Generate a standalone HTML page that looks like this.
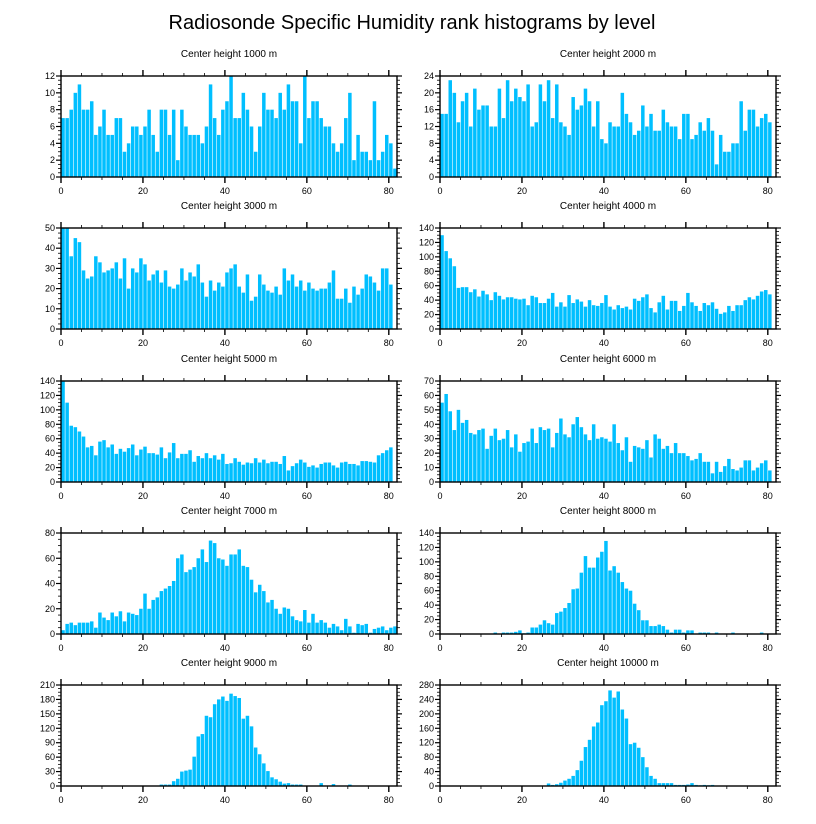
<!DOCTYPE html>
<html><head><meta charset="utf-8">
<style>
html,body{margin:0;padding:0;background:#fff;}
svg{display:block;font-family:"Liberation Sans",sans-serif;}
</style></head>
<body>
<svg id="fig" width="816" height="824" viewBox="0 0 816 824" xmlns="http://www.w3.org/2000/svg">
<text x="412" y="29" text-anchor="middle" font-size="20">Radiosonde Specific Humidity rank histograms by level</text>
</svg>
<script>
const titles = ["Center height 1000 m","Center height 2000 m","Center height 3000 m","Center height 4000 m","Center height 5000 m","Center height 6000 m","Center height 7000 m","Center height 8000 m","Center height 9000 m","Center height 10000 m"];
const yMax = [12,24,50,140,140,70,80,140,210,280];
const yStep = [2,4,10,20,20,10,20,20,30,40];
const xTicks = [0,20,40,60,80];
const h1000 = [7,7,8,10,11,8,8,9,5,6,8,5,5,7,7,3,4,6,6,5,6,8,5,3,8,8,5,8,2,8,6,5,5,5,4,6,11,7,5,8,9,12,7,7,10,8,6,3,6,10,8,8,7,10,8,11,9,9,4,12,7,9,9,7,6,6,4,3,4,7,10,2,5,3,3,2,9,2,3,5,4,1];
const h2000 = [15,15,23,20,13,18,20,12,21,16,17,17,12,12,21,14,23,18,21,19,18,22,12,13,22,18,23,14,22,13,12,10,19,16,17,21,18,12,18,9,8,13,12,12,20,15,13,10,11,17,12,15,11,11,16,13,12,12,9,15,15,9,10,13,11,14,11,3,10,6,6,8,8,18,11,16,16,12,14,15,13];
const h3000 = [50,50,36,45,43,29,25,26,36,33,28,29,30,33,25,35,20,30,28,35,32,24,27,29,23,29,21,20,22,30,24,28,26,32,23,16,24,19,23,21,28,30,32,21,18,27,14,16,27,22,19,18,21,17,30,24,27,21,24,19,23,20,19,20,20,23,29,15,15,20,13,21,17,20,27,26,23,19,30,30,22];
const h4000 = [130,108,98,87,57,58,58,51,55,45,53,48,40,51,46,41,44,44,42,41,42,33,46,44,36,36,42,50,31,37,31,47,36,41,38,31,40,33,32,36,47,31,27,33,29,31,27,42,39,44,48,29,23,37,46,27,39,39,25,32,50,37,32,25,36,33,37,28,21,23,32,25,33,33,40,44,41,46,52,54,48];
const h5000 = [140,110,78,76,70,63,48,50,37,56,58,48,52,39,46,42,47,52,37,45,49,40,40,38,48,33,41,54,33,39,39,44,28,36,33,40,33,37,31,39,25,26,33,28,24,27,26,33,27,31,26,28,28,25,36,16,22,26,31,27,21,23,20,25,27,27,23,20,27,28,25,25,23,29,29,28,27,37,40,44,48];
const h6000 = [55,61,49,36,50,41,43,34,33,36,37,23,32,37,29,30,36,24,33,21,27,28,37,27,38,36,37,24,34,44,33,31,40,45,38,33,29,40,30,31,30,28,40,27,22,31,14,25,24,23,29,17,33,30,23,25,20,27,20,20,18,15,16,20,14,14,6,14,7,11,16,9,8,10,15,15,8,10,13,15,8];
const h7000 = [3,8,9,7,9,9,9,10,5,17,13,11,17,14,18,10,17,16,15,20,32,20,27,29,34,36,38,42,60,63,49,51,53,60,67,57,74,72,60,59,54,63,63,67,54,53,43,33,39,34,25,27,20,16,21,20,14,11,10,19,9,16,9,11,9,5,8,6,3,12,6,1,8,7,8,1,4,5,6,3,5,6];
const h8000 = [0,0,0,0,0,0,0,0,0,0,0,0,0,2,0,2,2,2,3,5,1,2,9,9,13,19,15,13,29,31,36,43,62,63,85,108,92,92,106,114,129,88,94,85,72,63,60,42,33,19,19,11,11,13,11,6,2,6,6,2,5,5,0,2,2,2,0,2,0,0,0,2,0,0,0,0,0,0,2,0,0,0];
const h9000 = [0,0,0,0,0,0,0,0,0,0,0,0,0,0,0,0,0,0,0,0,0,0,1,1,3,3,3,10,15,30,32,34,61,103,108,146,143,170,180,186,177,192,187,183,140,146,124,80,66,47,31,18,14,9,5,6,3,3,3,1,1,1,1,6,1,1,4,1,1,1,3,1,1,1,1,1,1,1,1,1,1,1];
const h10000 = [0,0,0,0,0,0,0,0,0,0,0,0,0,0,0,0,0,0,0,0,0,0,0,0,0,0,7,3,5,9,15,20,28,44,70,108,128,165,176,224,235,265,245,262,212,187,116,120,106,80,52,28,20,8,8,8,8,3,3,3,4,8,3,2,3,2,3,1,1,1,1,1,1,1,1,1,1,1,1,1,1,1];
const series = [h1000,h2000,h3000,h4000,h5000,h6000,h7000,h8000,h9000,h10000];

const NS = "http://www.w3.org/2000/svg";
const svg = document.getElementById('fig');
function mk(tag, attrs, parent){
  const e = document.createElementNS(NS, tag);
  for (const k in attrs) e.setAttribute(k, attrs[k]);
  parent.appendChild(e); return e;
}
const colX = [61, 440], rowY = [76,228,381,533,685];
const W = 336, H = 101, XMAX = 82;
for (let p = 0; p < 10; p++) {
  const x0 = colX[p % 2], y0 = rowY[Math.floor(p / 2)];
  const g = mk('g', {}, svg);
  
  
  const sx = v => x0 + v / XMAX * W;
  const sy = v => y0 + H - Math.min(v, yMax[p]) / yMax[p] * H;
  const t = mk('text', {x: x0 + W / 2, y: y0 - 19, 'text-anchor': 'middle', 'font-size': 10}, g);
  
  
  t.textContent = titles[p];
  const data = series[p];
  for (let i = 0; i < data.length; i++) {
    if (data[i] <= 0) continue;
    const r = mk('rect', {x: sx(i) + 0.3, y: sy(data[i]), width: W / XMAX - 0.6, height: sy(0) - sy(data[i]), fill: '#00bfff'}, g);
    
    
  }
  const fr = mk('rect', {x: x0, y: y0, width: W, height: H, fill: 'none', stroke: '#000', 'stroke-width': 1.4}, g);
  
  
  // x ticks
  for (let v = 0; v <= XMAX; v += 5) {
    const major = v % 20 === 0, L = major ? 6 : 3, X = sx(v);
    mk('line', {x1: X, x2: X, y1: y0 + H, y2: y0 + H + L, stroke: '#000', 'stroke-width': major ? 1.4 : 0.8}, g);
    mk('line', {x1: X, x2: X, y1: y0, y2: y0 - L, stroke: '#000', 'stroke-width': major ? 1.4 : 0.8}, g);
  }
  xTicks.forEach(v => {
    const tl = mk('text', {x: sx(v), y: y0 + H + 17, 'text-anchor': 'middle', 'font-size': 9}, g);
    
    
    tl.textContent = v;
  });
  // y ticks
  const minor = yStep[p] / 4;
  for (let v = 0; v <= yMax[p] + 1e-9; v += minor) {
    const major = Math.abs(v / yStep[p] - Math.round(v / yStep[p])) < 1e-6, L = major ? 5 : 3, Y = sy(v);
    mk('line', {x1: x0, x2: x0 - L, y1: Y, y2: Y, stroke: '#000', 'stroke-width': major ? 1.2 : 0.8}, g);
    mk('line', {x1: x0 + W, x2: x0 + W + L, y1: Y, y2: Y, stroke: '#000', 'stroke-width': major ? 1.2 : 0.8}, g);
    if (major) {
      const yl = mk('text', {x: x0 - 6, y: Y + 3, 'text-anchor': 'end', 'font-size': 9}, g);
      
      
      yl.textContent = Math.round(v);
    }
  }
}
</script>
</body></html>
